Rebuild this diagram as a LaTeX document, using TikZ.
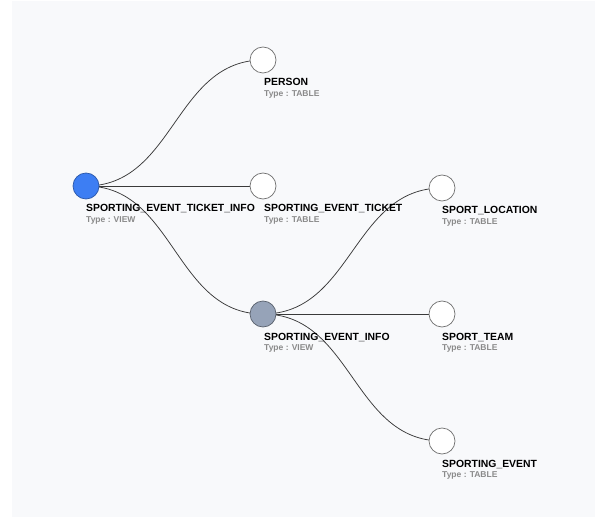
\documentclass[tikz,border=0pt]{standalone}
\usepackage{fontspec}
\setmainfont{Liberation Sans}
\usetikzlibrary{backgrounds,calc}
\definecolor{bgc}{HTML}{F8F9FB}
\definecolor{rootc}{HTML}{3D7EF3}
\definecolor{viewc}{HTML}{96A3B8}
\definecolor{edgec}{HTML}{3A3A3A}
\definecolor{ringc}{HTML}{707070}
\definecolor{typec}{HTML}{8A8A8A}
\tikzset{
  dot/.style={circle,draw=ringc,line width=0.7bp,minimum size=26bp,inner sep=0pt,fill=white},
  rootdot/.style={dot,fill=rootc,draw=rootc!70!black},
  viewdot/.style={dot,fill=viewc,draw=viewc!60!black},
  namelbl/.style={anchor=base west,inner sep=0pt,font=\fontsize{10.4bp}{12bp}\selectfont\bfseries,text=black},
  typelbl/.style={anchor=base west,inner sep=0pt,font=\fontsize{8.5bp}{10bp}\selectfont\bfseries,text=typec},
  link/.style={draw=edgec,line width=0.75bp}
}
\begin{document}
\begin{tikzpicture}[x=1bp,y=-1bp]
\useasboundingbox (0,0) rectangle (595,518);
% nodes
\node[rootdot] (root) at (86,186) {};
\node[dot] (person) at (263,60) {};
\node[dot] (ticket) at (263,186) {};
\node[viewdot] (info) at (263,314) {};
\node[dot] (loc) at (442,188) {};
\node[dot] (team) at (442,314) {};
\node[dot] (event) at (442,441) {};
% labels
\node[namelbl] (l-root) at (86,212) {SPORTING\_EVENT\_TICKET\_INFO};
\node[typelbl] (t-root) at (86,222.5) {Type : VIEW};
\node[namelbl] (l-person) at (264,86) {PERSON};
\node[typelbl] (t-person) at (264,96.5) {Type : TABLE};
\node[namelbl] (l-ticket) at (264,212) {SPORTING\_EVENT\_TICKET};
\node[typelbl] (t-ticket) at (264,222.5) {Type : TABLE};
\node[namelbl] (l-info) at (264,340) {SPORTING\_EVENT\_INFO};
\node[typelbl] (t-info) at (264,350.5) {Type : VIEW};
\node[namelbl] (l-loc) at (442,214) {SPORT\_LOCATION};
\node[typelbl] (t-loc) at (442,224.5) {Type : TABLE};
\node[namelbl] (l-team) at (442,340) {SPORT\_TEAM};
\node[typelbl] (t-team) at (442,350.5) {Type : TABLE};
\node[namelbl] (l-event) at (442,467) {SPORTING\_EVENT};
\node[typelbl] (t-event) at (442,477.5) {Type : TABLE};
\begin{pgfonlayer}{background}
\fill[bgc] (12,1) rectangle (595,517);
\path[link] (root.center) .. controls ($(root.center)+(88.5,0)$) and ($(person.center)-(88.5,0)$) .. (person.center);
\path[link] (root.center) -- (ticket.center);
\path[link] (root.center) .. controls ($(root.center)+(88.5,0)$) and ($(info.center)-(88.5,0)$) .. (info.center);
\path[link] (info.center) .. controls ($(info.center)+(89.5,0)$) and ($(loc.center)-(89.5,0)$) .. (loc.center);
\path[link] (info.center) -- (team.center);
\path[link] (info.center) .. controls ($(info.center)+(89.5,0)$) and ($(event.center)-(89.5,0)$) .. (event.center);
\end{pgfonlayer}
\end{tikzpicture}
\end{document}
